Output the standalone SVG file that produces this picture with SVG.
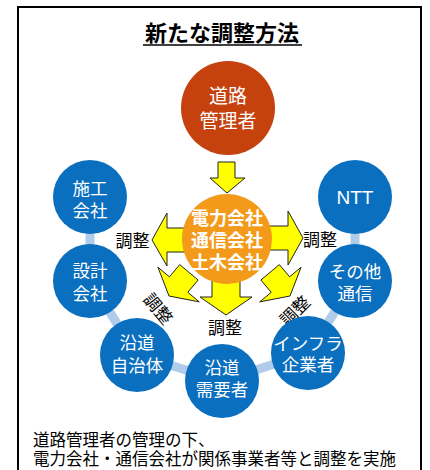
<svg xmlns="http://www.w3.org/2000/svg" width="430" height="470" viewBox="0 0 430 470">
<style>
text{font-family:"Liberation Sans","Noto Sans CJK JP",sans-serif;}
.w{fill:#fff;font-size:17.5px;text-anchor:middle;}
.ob{fill:#fff;font-size:18px;font-weight:bold;text-anchor:middle;}
.lbl{fill:#000;font-size:17px;text-anchor:middle;}
.blue{fill:#0A6FBF;}
.arr{fill:#FFFF00;stroke:#222;stroke-width:1;stroke-linejoin:miter;}
.cap{font-size:16.5px;fill:#000;}
</style>
<rect x="18" y="7" width="403" height="480" fill="#fff" stroke="#000" stroke-width="2"/>
<g id="title">
<text x="222" y="41" style="font-size:22px;font-weight:bold;fill:#000;text-anchor:middle;">新たな調整方法</text>
<line x1="143" y1="45" x2="302" y2="45" stroke="#000" stroke-width="1.6"/>
</g>
<g id="connectors">
<polyline points="90,197 90,281 137,355 222,381 308,353 355,281 355,197" fill="none" stroke="#AFCDEA" stroke-width="9" stroke-linejoin="round"/>
<polygon class="arr" points="218,162 235,162 235,178 245,178 227,193 210,178 218,178"/>
<polygon class="arr" points="195,228 167,228 167,213 152,240 167,266 167,252 195,252"/>
<polygon class="arr" points="260,226 288,226 288,211 303,238 288,265 288,250 260,250"/>
<polygon class="arr" points="179.7,264.6 169.4,276.8 157.9,267.2 169,296 199.3,301.9 187.8,292.3 198.1,280"/>
<polygon class="arr" points="279.3,264.6 289.6,276.8 301.1,267.2 290,296 259.7,301.9 271.2,292.3 260.9,280"/>
<polygon class="arr" points="212,270 240,270 240,297 252,297 226,315 200,297 212,297"/>
<text class="lbl" x="132.5" y="247">調整</text>
<text class="lbl" x="320" y="246">調整</text>
<text class="lbl" x="225" y="334">調整</text>
<text class="lbl" transform="translate(158,309) rotate(50)" x="0" y="6">調整</text>
<text class="lbl" transform="translate(295,311) rotate(-45)" x="0" y="6">調整</text>
</g>
<g id="road-manager">
<circle cx="228" cy="108" r="47" fill="#C5410E"/>
<text class="w" x="228" y="103" style="font-size:19px">道路</text>
<text class="w" x="228" y="128" style="font-size:19px">管理者</text>
</g>
<g id="center">
<circle cx="227" cy="239" r="45" fill="#F39A1A"/>
<text class="ob" x="227" y="225">電力会社</text>
<text class="ob" x="227" y="247">通信会社</text>
<text class="ob" x="227" y="269">土木会社</text>
</g>
<g id="sekou">
<circle class="blue" cx="90" cy="197" r="37"/>
<text class="w" x="90" y="195">施工</text>
<text class="w" x="90" y="217">会社</text>
</g>
<g id="sekkei">
<circle class="blue" cx="90" cy="281" r="37"/>
<text class="w" x="90" y="277">設計</text>
<text class="w" x="90" y="300">会社</text>
</g>
<g id="jichitai">
<circle class="blue" cx="137" cy="355" r="37"/>
<text class="w" x="137" y="349">沿道</text>
<text class="w" x="137" y="372">自治体</text>
</g>
<g id="juyousha">
<circle class="blue" cx="222" cy="381" r="37"/>
<text class="w" x="222" y="374">沿道</text>
<text class="w" x="222" y="396">需要者</text>
</g>
<g id="infra">
<circle class="blue" cx="308" cy="353" r="37"/>
<text class="w" x="308" y="350">インフラ</text>
<text class="w" x="308" y="371">企業者</text>
</g>
<g id="sonota">
<circle class="blue" cx="355" cy="281" r="37"/>
<text class="w" x="355" y="278">その他</text>
<text class="w" x="355" y="300">通信</text>
</g>
<g id="ntt">
<circle class="blue" cx="355" cy="197" r="37"/>
<text class="w" x="355" y="204" style="font-size:19px">NTT</text>
</g>
<g id="caption">
<text class="cap" x="33" y="446">道路管理者の管理の下、</text>
<text class="cap" x="33" y="465">電力会社・通信会社が関係事業者等と調整を実施</text>
</g>
</svg>
